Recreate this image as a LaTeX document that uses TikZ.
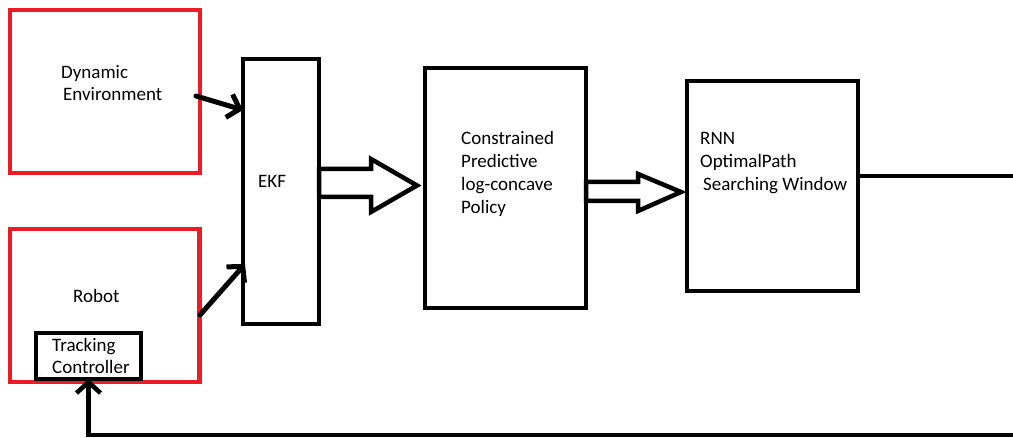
\documentclass[tikz,border=0pt]{standalone}
\usepackage{fontspec}
\setmainfont{Carlito}
\usetikzlibrary{arrows.meta,calc}
\definecolor{pred}{RGB}{237,28,36}
\begin{document}
\begin{tikzpicture}[x=1pt,y=-1pt,
 blk/.style={draw=black,line width=4pt,inner sep=0pt,outer sep=0pt,fill=white},
 redblk/.style={draw=pred,line width=4.5pt,inner sep=0pt,outer sep=0pt},
 txt/.style={anchor=base west,inner sep=0pt,font=\fontsize{19}{23}\selectfont},
 arr/.style={line width=5pt,line cap=round,line join=round,-{Straight Barb[length=11pt,width=24pt]}},
 fbarr/.style={line width=4.5pt,line join=miter,-{Straight Barb[length=11pt,width=24pt]}},
 wire/.style={line width=4.5pt},
 fat/.style={draw=black,line width=4.5pt,line join=miter,fill=white}]
\fill[white] (0,0) rectangle (1013,438);
\useasboundingbox (0,0) rectangle (1013,438);
\clip (0,0) rectangle (1013,438);

% boxes
\node[redblk,minimum width=190pt,minimum height=163pt] (de) at (105,91.5) {};
\node[redblk,minimum width=189.5pt,minimum height=153pt] (robot) at (104.75,305.5) {};
\node[blk,minimum width=105pt,minimum height=46pt] (tc) at (88.5,356) {};
\node[blk,minimum width=76pt,minimum height=265pt] (ekf) at (281,191.5) {};
\node[blk,minimum width=161pt,minimum height=240pt] (cp) at (505.5,188) {};
\node[blk,minimum width=171pt,minimum height=210pt] (rnn) at (772.5,186) {};

% texts
\node[txt] (t1) at (61,79) {Dynamic};
\node[txt] (t2) at (63,101) {Environment};
\node[txt] (t3) at (258,188) {EKF};
\node[txt] (t4) at (73,303) {Robot};
\node[txt] (t5) at (52,352) {Tracking};
\node[txt] (t6) at (52,374) {Controller};
\node[txt] (t7) at (461,145) {Constrained};
\node[txt] (t8) at (461,168) {Predictive};
\node[txt] (t9) at (461,191) {log-concave};
\node[txt] (t10) at (461,214) {Policy};
\node[txt] (t11) at (700,145) {RNN};
\node[txt] (t12) at (700,168) {OptimalPath};
\node[txt] (t13) at (703,191) {Searching Window};

% connectors
\draw[arr] ($(de.east)+(-4,4.5)$) -- ($(ekf.west)+(0,-81.5)$);
\draw[arr] ($(robot.east)+(0.5,9.5)$) -- ($(ekf.west)+(2,72.5)$);

% hollow block arrows
\draw[fat] (319,169) -- (371,169) -- (371,159) -- (417,185.5) -- (371,212) -- (371,197) -- (319,197) -- cycle;
\draw[fat] (586,182) -- (638,182) -- (638,174) -- (681,192) -- (638,211) -- (638,201) -- (586,201) -- cycle;

% feedback
\coordinate (out) at (1020,176);
\coordinate (fb) at (1020,435);
\draw[wire] ($(rnn.east)+(0,-10)$) -- (out);
\draw[fbarr] (fb) -- (fb -| tc.south) -- (tc.south);
\end{tikzpicture}
\end{document}
